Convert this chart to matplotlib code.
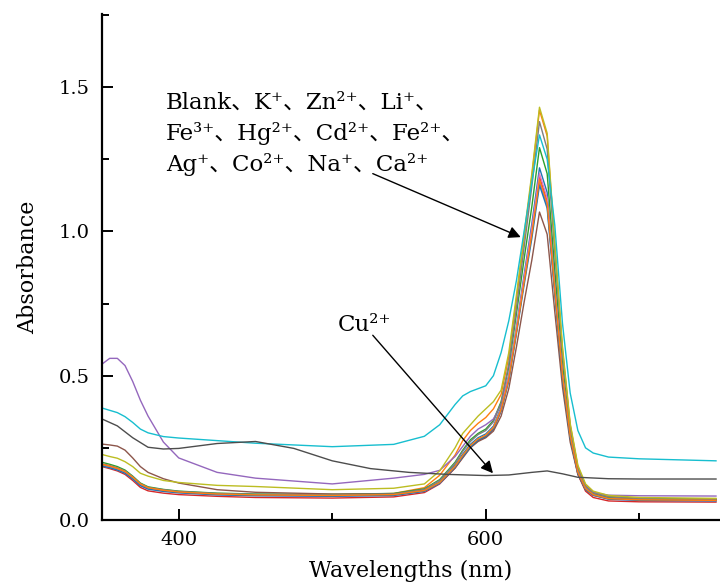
import matplotlib
matplotlib.use("Agg")
import matplotlib.pyplot as plt
from matplotlib.ticker import MultipleLocator

plt.rcParams['font.family'] = ['DejaVu Serif', 'Noto Sans CJK SC']

# Shared wavelength grid (nm) for the ion spectra
wl = [350, 355, 360, 365, 370, 375, 380, 390, 400, 425, 450, 500, 540, 560, 570,
      580, 585, 590, 595, 600, 605, 610, 615, 620, 625, 630, 635, 640, 645, 650,
      655, 660, 665, 670, 680, 700, 750]

blank = [0.190, 0.184, 0.176, 0.165, 0.145, 0.122, 0.110, 0.102, 0.097, 0.090, 0.087, 0.085, 0.088, 0.103, 0.132,
         0.190, 0.228, 0.262, 0.285, 0.298, 0.325, 0.390, 0.500, 0.670, 0.850, 1.025, 1.220, 1.135, 0.820, 0.515,
         0.300, 0.170, 0.112, 0.090, 0.076, 0.071, 0.068]
k_ion = [0.192, 0.186, 0.178, 0.167, 0.147, 0.124, 0.112, 0.104, 0.098, 0.091, 0.088, 0.087, 0.092, 0.112, 0.155,
         0.225, 0.275, 0.310, 0.335, 0.355, 0.385, 0.435, 0.565, 0.765, 0.975, 1.190, 1.420, 1.330, 0.950, 0.590,
         0.330, 0.185, 0.122, 0.097, 0.082, 0.075, 0.072]
zn_ion = [0.200, 0.193, 0.185, 0.173, 0.152, 0.128, 0.115, 0.106, 0.100, 0.093, 0.090, 0.089, 0.092, 0.108, 0.140,
          0.200, 0.242, 0.278, 0.300, 0.315, 0.345, 0.410, 0.530, 0.715, 0.905, 1.085, 1.290, 1.200, 0.865, 0.540,
          0.310, 0.175, 0.116, 0.093, 0.079, 0.074, 0.072]
li_ion = [0.185, 0.178, 0.170, 0.158, 0.137, 0.113, 0.101, 0.093, 0.088, 0.082, 0.078, 0.076, 0.080, 0.095, 0.125,
          0.180, 0.218, 0.252, 0.275, 0.288, 0.315, 0.378, 0.488, 0.655, 0.830, 1.000, 1.190, 1.105, 0.795, 0.495,
          0.285, 0.158, 0.100, 0.078, 0.066, 0.063, 0.062]
fe3_ion = [0.540, 0.560, 0.560, 0.535, 0.480, 0.415, 0.360, 0.270, 0.215, 0.165, 0.145, 0.125, 0.145, 0.158, 0.172,
           0.220, 0.255, 0.290, 0.315, 0.330, 0.350, 0.400, 0.500, 0.655, 0.825, 0.990, 1.170, 1.090, 0.790, 0.500,
           0.295, 0.170, 0.115, 0.095, 0.086, 0.084, 0.083]
hg_ion = [0.263, 0.260, 0.256, 0.242, 0.215, 0.185, 0.165, 0.143, 0.128, 0.105, 0.096, 0.090, 0.090, 0.102, 0.128,
          0.180, 0.215, 0.250, 0.272, 0.285, 0.308, 0.360, 0.455, 0.600, 0.755, 0.900, 1.067, 0.990, 0.720, 0.460,
          0.270, 0.158, 0.105, 0.085, 0.074, 0.070, 0.068]
cd_ion = [0.188, 0.182, 0.174, 0.163, 0.143, 0.120, 0.108, 0.100, 0.095, 0.088, 0.085, 0.083, 0.086, 0.100, 0.128,
          0.185, 0.222, 0.256, 0.280, 0.293, 0.320, 0.385, 0.495, 0.665, 0.840, 1.010, 1.200, 1.115, 0.805, 0.505,
          0.292, 0.165, 0.108, 0.087, 0.073, 0.069, 0.067]
fe2_ion = [0.195, 0.189, 0.181, 0.170, 0.150, 0.126, 0.113, 0.105, 0.099, 0.092, 0.089, 0.087, 0.090, 0.106, 0.137,
           0.196, 0.238, 0.272, 0.296, 0.310, 0.340, 0.405, 0.540, 0.735, 0.945, 1.155, 1.380, 1.285, 0.925, 0.575,
           0.325, 0.180, 0.118, 0.094, 0.080, 0.074, 0.071]
ag_ion = [0.227, 0.220, 0.214, 0.202, 0.185, 0.162, 0.152, 0.137, 0.130, 0.120, 0.116, 0.105, 0.110, 0.125, 0.170,
          0.250, 0.300, 0.330, 0.360, 0.385, 0.410, 0.450, 0.580, 0.780, 0.990, 1.200, 1.430, 1.340, 0.960, 0.600,
          0.335, 0.190, 0.125, 0.100, 0.085, 0.078, 0.075]
co_ion = [0.388, 0.380, 0.372, 0.358, 0.338, 0.315, 0.302, 0.289, 0.284, 0.275, 0.266, 0.254, 0.262, 0.290, 0.330,
          0.400, 0.430, 0.445, 0.455, 0.465, 0.500, 0.580, 0.690, 0.830, 1.000, 1.170, 1.334, 1.250, 1.020, 0.680,
          0.440, 0.310, 0.250, 0.232, 0.218, 0.212, 0.205]
na_ion = [0.187, 0.181, 0.173, 0.162, 0.142, 0.119, 0.107, 0.099, 0.094, 0.087, 0.084, 0.082, 0.085, 0.099, 0.127,
          0.183, 0.220, 0.253, 0.277, 0.290, 0.316, 0.378, 0.482, 0.645, 0.815, 0.975, 1.160, 1.080, 0.780, 0.490,
          0.285, 0.162, 0.106, 0.086, 0.072, 0.068, 0.066]
ca_ion = [0.193, 0.187, 0.179, 0.168, 0.148, 0.125, 0.112, 0.103, 0.097, 0.090, 0.087, 0.085, 0.088, 0.102, 0.130,
          0.186, 0.224, 0.258, 0.281, 0.294, 0.320, 0.382, 0.488, 0.652, 0.825, 0.990, 1.180, 1.098, 0.795, 0.500,
          0.292, 0.166, 0.109, 0.088, 0.074, 0.070, 0.068]

# Cu2+ spectrum on its own grid
cu_wl = [350, 360, 370, 380, 390, 400, 425, 450, 475, 500, 525, 550, 575, 600, 615, 630,
         640, 650, 660, 680, 700, 750]
cu_ion = [0.350, 0.326, 0.285, 0.252, 0.246, 0.248, 0.265, 0.272, 0.248, 0.205, 0.178, 0.165, 0.158, 0.154, 0.156,
          0.165, 0.170, 0.160, 0.148, 0.143, 0.142, 0.142]

series = [blank, k_ion, zn_ion, li_ion, fe3_ion, hg_ion, cd_ion, fe2_ion, ag_ion, co_ion, na_ion, ca_ion]
colors = ['#1f77b4', '#ff7f0e', '#2ca02c', '#d62728', '#9467bd', '#8c564b',
          '#e377c2', '#7f7f7f', '#bcbd22', '#17becf', '#1f77b4', '#ff7f0e']

label_lines = [
    'Blank、K⁺、Zn²⁺、Li⁺、',
    'Fe³⁺、Hg²⁺、Cd²⁺、Fe²⁺、',
    'Ag⁺、Co²⁺、Na⁺、Ca²⁺',
]
cu_label = 'Cu²⁺'

fig = plt.figure(figsize=(7.2, 5.86), dpi=100)
ax = fig.add_axes([102 / 720, 66 / 586, 618 / 720, 506 / 586])

for vals, c in zip(series, colors):
    ax.plot(wl, vals, color=c, lw=1.0)
ax.plot(cu_wl, cu_ion, color='#4d4d4d', lw=1.0)

ax.set_xlim(350, 752.6)
ax.set_ylim(0, 1.753)
ax.xaxis.set_major_locator(MultipleLocator(200))
ax.xaxis.set_minor_locator(MultipleLocator(100))
ax.yaxis.set_major_locator(MultipleLocator(0.5))
ax.yaxis.set_minor_locator(MultipleLocator(0.25))
ax.yaxis.set_major_formatter(plt.FuncFormatter(lambda v, p: f"{v:.1f}"))

for s in ['top', 'right']:
    ax.spines[s].set_visible(False)
for s in ['left', 'bottom']:
    ax.spines[s].set_linewidth(1.6)

ax.tick_params(which='both', direction='in', width=1.4, labelsize=14)
ax.tick_params(which='major', length=8)
ax.tick_params(which='minor', length=5)
ax.tick_params(axis='y', pad=9)
ax.tick_params(axis='x', pad=8)

ax.set_xlabel('Wavelengths (nm)', fontsize=16, labelpad=8)
ax.set_ylabel('Absorbance', fontsize=16, labelpad=14)

for i, t in enumerate(label_lines):
    ax.text(391.5, 1.425 - i * 0.108, t, fontsize=16.5, ha='left', va='baseline')

arrow_style = dict(arrowstyle='-|>', color='black', lw=1.0,
                   mutation_scale=18, shrinkA=0, shrinkB=0)
ax.annotate('', xy=(622.8, 0.98), xytext=(526.4, 1.20), arrowprops=arrow_style)

ax.text(503.6, 0.655, cu_label, fontsize=16.5, ha='left', va='baseline')
ax.annotate('', xy=(604.7, 0.162), xytext=(526.4, 0.64), arrowprops=arrow_style)

fig.savefig('out.png', dpi=100)
